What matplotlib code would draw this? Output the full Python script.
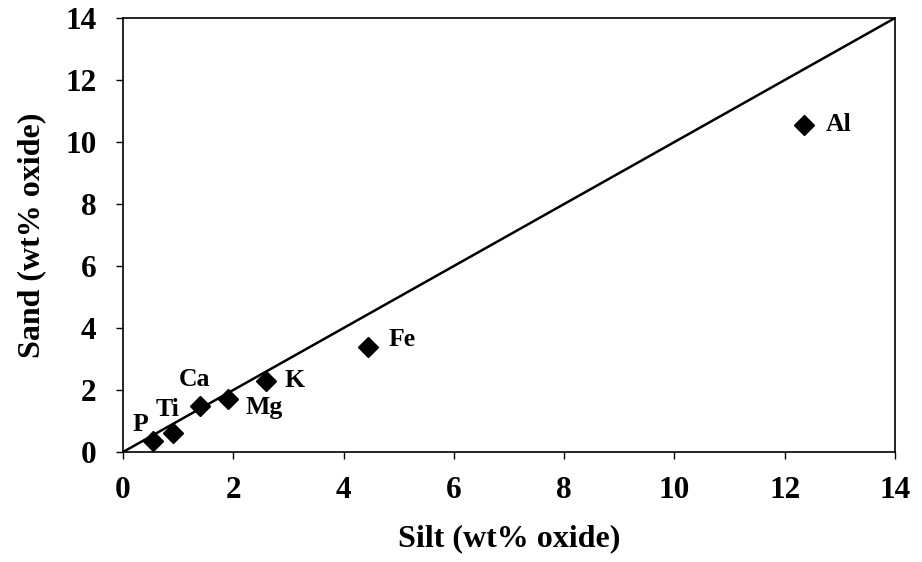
import matplotlib
matplotlib.use("Agg")
import matplotlib.pyplot as plt

elements = ["P", "Ti", "Ca", "Mg", "K", "Fe", "Al"]
silt = [0.55, 0.9, 1.4, 1.9, 2.6, 4.45, 12.35]
sand = [0.35, 0.62, 1.5, 1.7, 2.3, 3.4, 10.55]
# label offsets in points (dx, dy)
label_offsets = [(-9, 12), (-4, 17), (-4, 19), (26, -6), (20, 0), (24, 5), (25, 0)]
line_x = [0, 14]
line_y = [0, 14]
ticks = [0, 2, 4, 6, 8, 10, 12, 14]

plt.rcParams['font.family'] = ['Liberation Serif', 'DejaVu Serif']
plt.rcParams['font.weight'] = 'bold'

fig = plt.figure(figsize=(9.22, 5.62), dpi=100)
ax = fig.add_axes([0.1334, 0.1957, 0.8373, 0.7722])

ax.plot(line_x, line_y, color='black', linewidth=1.8, solid_capstyle='butt')
ax.plot(silt, sand, linestyle='none', marker='D', markersize=10,
        color='black')

for name, x, y, (dx, dy) in zip(elements, silt, sand, label_offsets):
    ax.annotate(name, (x, y), xytext=(dx, dy), textcoords='offset points',
                ha='center', va='center', fontsize=18.5, fontweight='bold')

ax.set_xlim(0, 14)
ax.set_ylim(0, 14)
ax.set_xticks(ticks)
ax.set_yticks(ticks)
ax.set_xticklabels([str(t) for t in ticks], fontsize=22.5, fontweight='bold')
ax.set_yticklabels([str(t) for t in ticks], fontsize=22.5, fontweight='bold')
ax.tick_params(direction='out', length=5, width=1)
ax.tick_params(axis='x', pad=12)
ax.tick_params(axis='y', pad=14)
for s in ax.spines.values():
    s.set_linewidth(1.2)

ax.set_xlabel("Silt (wt% oxide)", fontsize=23, fontweight='bold', labelpad=14)
ax.set_ylabel("Sand (wt% oxide)", fontsize=23, fontweight='bold', labelpad=14)

fig.savefig("out.png", dpi=100)
